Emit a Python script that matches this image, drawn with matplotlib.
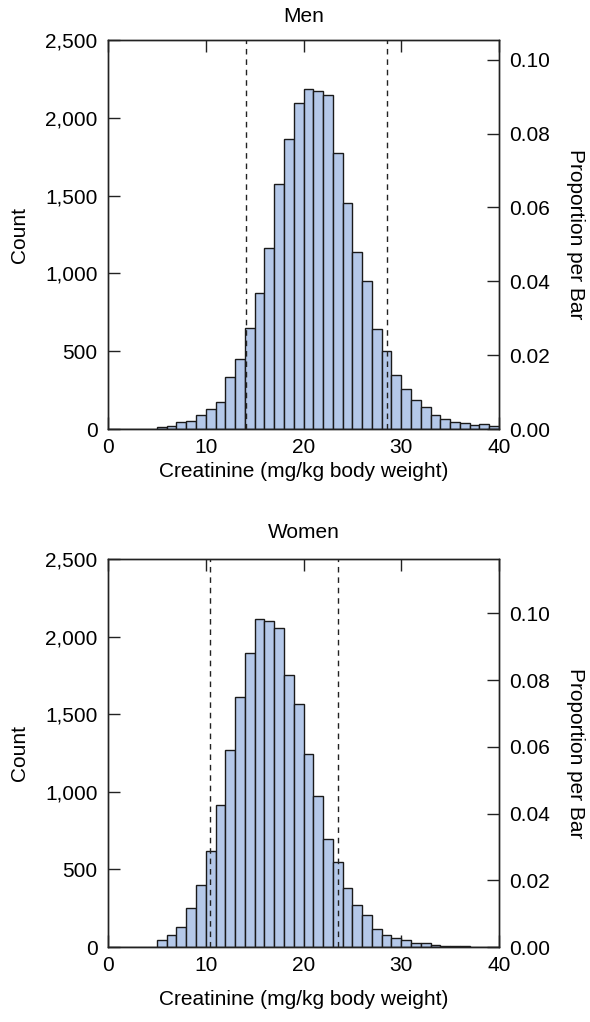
import matplotlib
matplotlib.use("Agg")
import matplotlib.pyplot as plt
import numpy as np
from matplotlib.ticker import FuncFormatter

plt.rcParams['font.family'] = ['Liberation Sans', 'DejaVu Sans']

bin_edges = list(range(0, 41))

men_counts = [0, 0, 0, 0, 0, 10, 17, 43, 54, 92,
              128, 176, 334, 452, 649, 874, 1165, 1577, 1864, 2097,
              2183, 2174, 2146, 1774, 1450, 1135, 953, 645, 499, 349,
              255, 186, 141, 88, 64, 45, 36, 26, 30, 17]
women_counts = [0, 0, 0, 0, 0, 47, 77, 127, 253, 399,
                618, 912, 1272, 1611, 1892, 2111, 2102, 2055, 1755, 1566,
                1244, 976, 695, 545, 380, 268, 208, 118, 77, 60,
                43, 24, 24, 13, 9, 4, 4, 1, 1, 0]
men_refs = [14.16, 28.5]
women_refs = [10.41, 23.58]

panels = [("Men", men_counts, men_refs), ("Women", women_counts, women_refs)]

count_ticks = [0, 500, 1000, 1500, 2000, 2500]
prop_ticks = [0.00, 0.02, 0.04, 0.06, 0.08, 0.10]
x_ticks = [0, 10, 20, 30, 40]

fig = plt.figure(figsize=(5.9, 10.22), dpi=100)
W, H = 590, 1022
boxes = [(108, 40, 499, 429), (108, 559, 499, 947)]
title_pads = [13, 15]
xlabel_pads = [3.3, 10.5]
FS = 15
bar_color = '#b4c8e9'

for (name, counts, refs), (l, t, r, b), tp, xp in zip(panels, boxes, title_pads, xlabel_pads):
    ax = fig.add_axes([l / W, 1 - b / H, (r - l) / W, (b - t) / H])
    edges = np.array(bin_edges, dtype=float)
    ax.bar(edges[:-1], counts, width=np.diff(edges), align='edge',
           color=bar_color, edgecolor='#1a1a1a', linewidth=1.0, zorder=2)
    for v in refs:
        ax.axvline(v, color='#222222', linestyle=(0, (4, 3.5)), linewidth=1.0, zorder=3)
    ax.set_xlim(0, 40)
    ax.set_ylim(0, 2500)
    ax.set_xticks(x_ticks)
    ax.set_yticks(count_ticks)
    ax.yaxis.set_major_formatter(FuncFormatter(lambda v, p: f"{int(v):,}"))
    ax.tick_params(axis='both', direction='in', length=8.5, width=1.0,
                   labelsize=FS, color='#222222')
    ax.tick_params(axis='x', top=True, pad=6.5)
    ax.tick_params(axis='y', pad=7.5)
    for s in ax.spines.values():
        s.set_linewidth(1.0)
        s.set_color('#222222')
    ax.set_title(name, fontsize=FS, pad=tp)
    ax.set_xlabel("Creatinine (mg/kg body weight)", fontsize=FS, labelpad=xp)
    ax.set_ylabel("Count", fontsize=FS)
    ax.yaxis.set_label_coords((19 - l) / (r - l), 0.5)
    ax.yaxis.label.set_verticalalignment('center')

    total = float(sum(counts))
    ax2 = ax.twinx()
    ax2.set_ylim(0, 2500 / total)
    ax2.set_yticks(prop_ticks)
    ax2.yaxis.set_major_formatter(FuncFormatter(lambda v, p: f"{v:.2f}"))
    ax2.tick_params(axis='y', direction='in', length=8.5, width=1.0,
                    labelsize=FS, pad=7.5, color='#222222')
    for s in ax2.spines.values():
        s.set_linewidth(1.0)
        s.set_color('#222222')
    ax2.set_ylabel("Proportion per Bar", fontsize=FS, rotation=270)
    ax2.yaxis.set_label_coords((575 - l) / (r - l), 0.5)
    ax2.yaxis.label.set_verticalalignment('center')

fig.savefig("out.png", dpi=100)
